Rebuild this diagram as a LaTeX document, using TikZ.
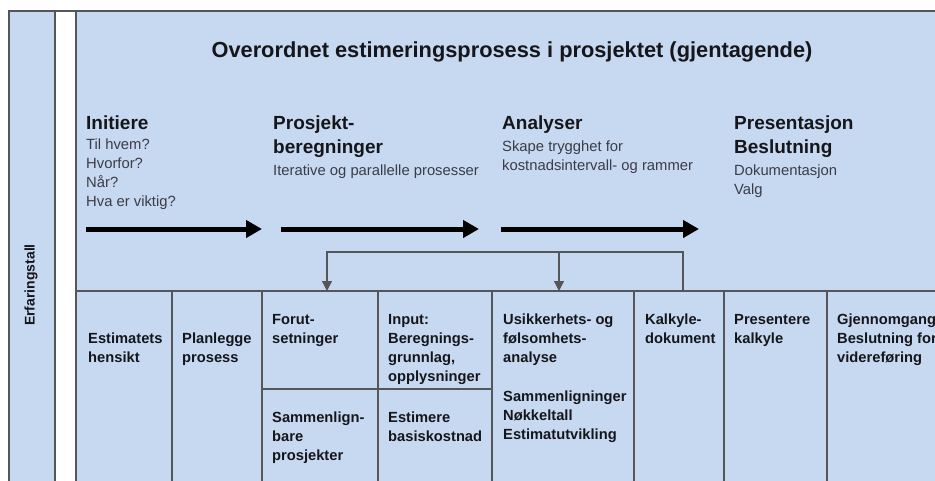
\documentclass[tikz,border=0pt]{standalone}
\usepackage{fontspec}
\setmainfont{Liberation Sans}
\usetikzlibrary{arrows.meta}
\definecolor{fillblue}{RGB}{198,217,241}
\definecolor{linegray}{RGB}{85,85,90}
\definecolor{txtdark}{RGB}{22,22,26}
\definecolor{txtgray}{RGB}{60,60,70}
\begin{document}
\begin{tikzpicture}[x=1pt,y=-1pt,
  cell/.style={draw=linegray, line width=1.2pt, fill=fillblue, anchor=north west, inner sep=0pt, outer sep=0pt},
  celltext/.style={anchor=base west, align=left, inner sep=0pt, text=txtdark, font=\fontsize{14.7}{19}\selectfont\bfseries},
  headtext/.style={anchor=base west, align=left, inner sep=0pt, text=txtdark, font=\fontsize{19}{24}\selectfont\bfseries},
  subtext/.style={anchor=base west, align=left, inner sep=0pt, text=txtgray, font=\fontsize{14.8}{19}\selectfont},
  bigarrow/.style={line width=5pt, -{Triangle[length=16pt,width=17pt]}},
  fb/.style={draw=linegray, line width=1.4pt},
  fbarrow/.style={fb, -{Triangle[length=10pt,width=10pt]}}
]
% note: for multi-line nodes the base anchor is the baseline of the LAST line
\clip (0,0) rectangle (935,480);
\fill[white] (0,0) rectangle (935,480);
% frame and columns
\node[cell, fill=white, minimum width=940pt, minimum height=480pt] (frame) at (9,11) {};
\node[cell, minimum width=46pt, minimum height=480pt] (exp) at (9,11) {};
\node[cell, minimum width=870pt, minimum height=480pt] (main) at (76,11) {};
\node[rotate=90, inner sep=0pt, text=txtdark, font=\fontsize{14}{17}\selectfont\bfseries] (explabel) at (31,285) {Erfaringstall};
% title
\node[anchor=base, inner sep=0pt, text=txtdark, font=\fontsize{21.8}{26}\selectfont\bfseries] (title) at (512,57) {Overordnet estimeringsprosess i prosjektet (gjentagende)};
% phase headings
\node[headtext] (h1) at (86,129) {Initiere};
\node[subtext] (s1) at (86,206) {Til hvem?\\Hvorfor?\\Når?\\Hva er viktig?};
\node[headtext] (h2) at (273,153) {Prosjekt-\\beregninger};
\node[subtext] (s2) at (273,175) {Iterative og parallelle prosesser};
\node[headtext] (h3) at (502,129) {Analyser};
\node[subtext] (s3) at (502,170) {Skape trygghet for\\kostnadsintervall- og rammer};
\node[headtext] (h4) at (734,153) {Presentasjon\\Beslutning};
\node[subtext] (s4) at (734,194) {Dokumentasjon\\Valg};
% big arrows
\coordinate (a1s) at (86,229); \coordinate (a1e) at (262,229);
\coordinate (a2s) at (281,229); \coordinate (a2e) at (479,229);
\coordinate (a3s) at (501,229); \coordinate (a3e) at (699,229);
\draw[bigarrow] (a1s) -- (a1e);
\draw[bigarrow] (a2s) -- (a2e);
\draw[bigarrow] (a3s) -- (a3e);
% cells
\node[cell, minimum width=96pt, minimum height=210pt] (c1) at (76,291) {};
\node[cell, minimum width=90pt, minimum height=210pt] (c2) at (172,291) {};
\node[cell, minimum width=116pt, minimum height=98pt] (c3a) at (262,291) {};
\node[cell, minimum width=116pt, minimum height=112pt] (c3b) at (262,389) {};
\node[cell, minimum width=114pt, minimum height=98pt] (c4a) at (378,291) {};
\node[cell, minimum width=114pt, minimum height=112pt] (c4b) at (378,389) {};
\node[cell, minimum width=142pt, minimum height=210pt] (c5) at (492,291) {};
\node[cell, minimum width=90pt, minimum height=210pt] (c6) at (634,291) {};
\node[cell, minimum width=103pt, minimum height=210pt] (c7) at (724,291) {};
\node[cell, minimum width=130pt, minimum height=210pt] (c8) at (827,291) {};
% cell texts
\node[celltext] (t1) at (88,362) {Estimatets\\hensikt};
\node[celltext] (t2) at (182,362) {Planlegge\\prosess};
\node[celltext] (t3a) at (272,343) {Forut-\\setninger};
\node[celltext] (t3b) at (272,460) {Sammenlign-\\bare\\prosjekter};
\node[celltext] (t4a) at (388,381) {Input:\\Beregnings-\\grunnlag,\\opplysninger};
\node[celltext] (t4b) at (388,441) {Estimere\\basiskostnad};
\node[celltext] (t5a) at (503,362) {Usikkerhets- og\\følsomhets-\\analyse};
\node[celltext] (t5b) at (503,439) {Sammenligninger\\Nøkkeltall\\Estimatutvikling};
\node[celltext] (t6) at (645,343) {Kalkyle-\\dokument};
\node[celltext] (t7) at (734,343) {Presentere\\kalkyle};
\node[celltext] (t8) at (837,362) {Gjennomgang\\Beslutning for\\videreføring};
% feedback connector
\coordinate (fbS) at (683,291);
\coordinate (fbR) at (683,252);
\coordinate (fbM) at (559,252);
\coordinate (fbL) at (327,252);
\draw[fbarrow] (fbS) -- (fbR) -- (fbL) -- (fbL |- c3a.north);
\draw[fbarrow] (fbM) -- (fbM |- c5.north);
\end{tikzpicture}
\end{document}
